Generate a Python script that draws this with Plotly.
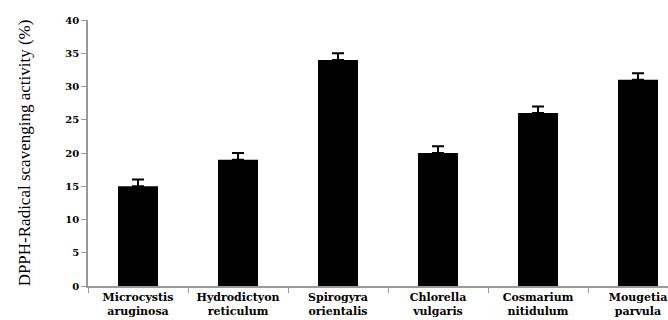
import plotly.graph_objects as go

categories = ["Microcystis<br>aruginosa", "Hydrodictyon<br>reticulum", "Spirogyra<br>orientalis",
              "Chlorella<br>vulgaris", "Cosmarium<br>nitidulum", "Mougetia<br>parvula"]
values = [15, 19, 34, 20, 26, 31]
errors = [1, 1, 1, 1, 1, 1]
y_ticks = [0, 5, 10, 15, 20, 25, 30, 35, 40]

fig = go.Figure(go.Bar(
    x=categories, y=values, width=0.4,
    marker=dict(color="black", line=dict(width=0)),
    error_y=dict(type="data", array=errors, symmetric=False, arrayminus=[0]*6,
                 color="black", thickness=2, width=6),
))

fig.update_layout(
    width=668, height=320,
    margin=dict(l=88, r=0, t=20, b=34),
    plot_bgcolor="white", paper_bgcolor="white",
    showlegend=False,
    bargap=0.6,
)
fig.update_xaxes(
    range=[-0.5, 5.3], showline=True, linecolor="#999999", linewidth=1.5,
    ticks="outside", tickson="boundaries", ticklen=5, tickcolor="#999999",
    tickfont=dict(family="DejaVu Serif", size=11, color="black", weight="bold"),
    showgrid=False, automargin=False,
)
fig.update_yaxes(
    range=[0, 40], tickvals=y_ticks, showline=True, linecolor="#999999", linewidth=1.5,
    ticks="outside", ticklen=5, tickcolor="#999999", showgrid=False, zeroline=False,
    tickfont=dict(family="DejaVu Serif", size=10, color="black", weight="bold"),
    title=dict(text="DPPH-Radical scavenging activity (%)", standoff=30,
               font=dict(family="Liberation Serif", size=17, color="black")),
    automargin=False,
)

fig.write_html("out.html", config={"displayModeBar": False},
               post_script="document.body.style.margin='0';document.body.style.overflow='hidden';")
